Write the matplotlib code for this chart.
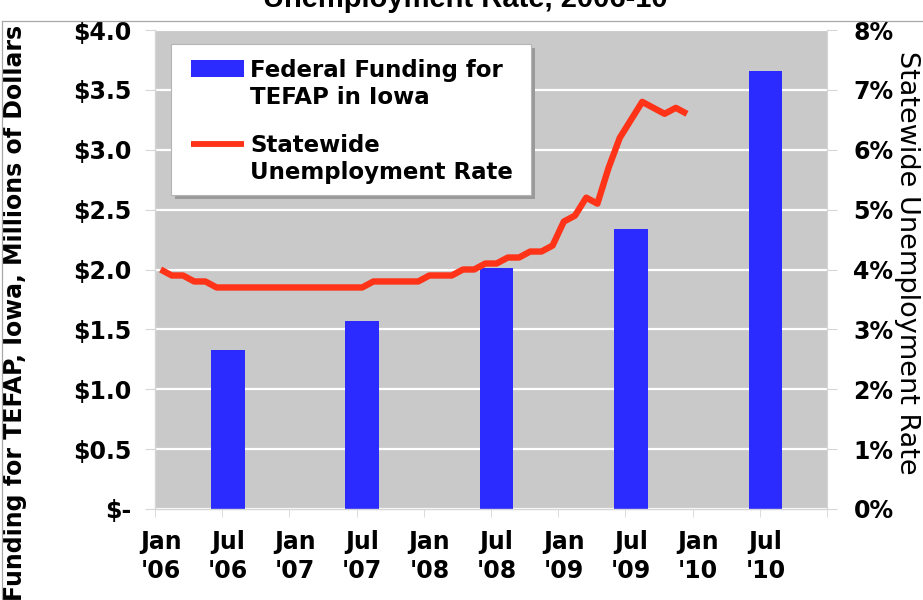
import matplotlib
matplotlib.use("Agg")
import matplotlib.pyplot as plt
from matplotlib.patches import Rectangle
from matplotlib.lines import Line2D
import numpy as np

# ---------------- data ----------------
tick_months = [0, 6, 12, 18, 24, 30, 36, 42, 48, 54]   # months since Jan 2006
tick_labels = ["Jan\n'06", "Jul\n'06", "Jan\n'07", "Jul\n'07", "Jan\n'08",
               "Jul\n'08", "Jan\n'09", "Jul\n'09", "Jan\n'10", "Jul\n'10"]

funding_months = [6, 18, 30, 42, 54]          # Jul '06 ... Jul '10
funding_millions = [1.33, 1.57, 2.01, 2.34, 3.66]

# monthly statewide unemployment rate, Jan 2006 - Dec 2009 (%)
unemployment_pct = [4.0, 3.9, 3.9, 3.8, 3.8, 3.7, 3.7, 3.7, 3.7, 3.7, 3.7, 3.7,
                    3.7, 3.7, 3.7, 3.7, 3.7, 3.7, 3.7, 3.8, 3.8, 3.8, 3.8, 3.8,
                    3.9, 3.9, 3.9, 4.0, 4.0, 4.1, 4.1, 4.2, 4.2, 4.3, 4.3, 4.4,
                    4.8, 4.9, 5.2, 5.1, 5.7, 6.2, 6.5, 6.8, 6.7, 6.6, 6.7, 6.6]
unemployment_months = list(range(len(unemployment_pct)))

left_ticks = [0, 0.5, 1.0, 1.5, 2.0, 2.5, 3.0, 3.5, 4.0]
left_tick_labels = ["$-", "$0.5", "$1.0", "$1.5", "$2.0", "$2.5", "$3.0", "$3.5", "$4.0"]
right_ticks = [0, 1, 2, 3, 4, 5, 6, 7, 8]
right_tick_labels = ["0%", "1%", "2%", "3%", "4%", "5%", "6%", "7%", "8%"]

# ---------------- styling ----------------
W, H = 923, 600
BAR_COLOR = "#2b2bff"
LINE_COLOR = "#ff3317"
BG = "#c9c9c9"
AXC = "#d6d6d6"
FONT = "DejaVu Sans"

fig = plt.figure(figsize=(W / 100, H / 100), dpi=100)
fig.patch.set_facecolor("white")

L, R, T, B = 155, 827, 30, 509
ax = fig.add_axes([L / W, 1 - B / H, (R - L) / W, (B - T) / H])
ax.set_facecolor(BG)

ax.bar(funding_months, funding_millions, width=3.0, color=BAR_COLOR,
       edgecolor="none", zorder=2)
ax.set_xlim(-0.5, 59.5)
ax.set_ylim(0, 4)
ax.set_yticks(left_ticks)
ax.set_yticklabels(left_tick_labels)
ax.yaxis.grid(True, color="white", linewidth=1.6)
ax.set_axisbelow(True)

ax.set_xticks(tick_months)
ax.set_xticklabels(tick_labels, linespacing=1.25)
ax.set_xticks(np.arange(-0.5, 60, 6), minor=True)
ax.tick_params(axis="x", which="major", length=0, pad=15)
ax.tick_params(axis="x", which="minor", length=6, color=AXC)
ax.tick_params(axis="y", length=7, color=AXC, pad=10)

for lab in ax.get_xticklabels() + ax.get_yticklabels():
    lab.set_fontfamily(FONT)
    lab.set_fontweight("bold")
    lab.set_fontsize(17)

for s in ["top", "right"]:
    ax.spines[s].set_visible(False)
for s in ["left", "bottom"]:
    ax.spines[s].set_color(AXC)
    ax.spines[s].set_linewidth(1)

ax2 = ax.twinx()
ax2.plot(unemployment_months, unemployment_pct, color=LINE_COLOR, linewidth=4.6,
         solid_joinstyle="round", solid_capstyle="butt", zorder=3)
ax2.set_ylim(0, 8)
ax2.set_yticks(right_ticks)
ax2.set_yticklabels(right_tick_labels)
ax2.tick_params(axis="y", length=7, color=AXC, pad=12)
for lab in ax2.get_yticklabels():
    lab.set_fontfamily(FONT)
    lab.set_fontweight("bold")
    lab.set_fontsize(17)
for s in ["top", "left", "bottom"]:
    ax2.spines[s].set_visible(False)
ax2.spines["right"].set_color(AXC)

# axis titles
fig.text(15 / W, 1 - 313 / H, "Funding for TEFAP, Iowa, Millions of Dollars",
         rotation=90, ha="center", va="center", fontsize=17,
         fontweight="bold", family=FONT)
fig.text(907 / W, 1 - 263 / H, "Statewide Unemployment Rate",
         rotation=270, ha="center", va="center", fontsize=19.5, family=FONT)

# title (top part falls outside the picture, as in the reference)
fig.text(465 / W, 1 - 7 / H, "Unemployment Rate, 2006-10", ha="center",
         va="baseline", fontsize=21, fontweight="bold", family="Liberation Sans")

# ---------------- overlay in pixel coordinates: frame and legend ----------------
ov = fig.add_axes([0, 0, 1, 1], zorder=10)
ov.set_xlim(0, W)
ov.set_ylim(H, 0)
ov.axis("off")

ov.add_line(Line2D([2, W], [21, 21], color="#a8a8a8", linewidth=0.9))
ov.add_line(Line2D([2, 2], [21, H], color="#a8a8a8", linewidth=0.9))

lx0, ly0, lx1, ly1 = 171, 44, 531, 195
ov.add_patch(Rectangle((lx0 + 4, ly0 + 4), lx1 - lx0, ly1 - ly0,
                       facecolor="#9a9a9a", edgecolor="none"))
ov.add_patch(Rectangle((lx0, ly0), lx1 - lx0, ly1 - ly0,
                       facecolor="white", edgecolor="#b5b5b5", linewidth=0.8))
ov.add_patch(Rectangle((191, 59.5), 52.5, 17.5, facecolor=BAR_COLOR, edgecolor="none"))
ov.add_line(Line2D([191, 243.5], [144, 144], color=LINE_COLOR, linewidth=4.2,
                   solid_capstyle="butt"))
for txt, yb in [("Federal Funding for", 77), ("TEFAP in Iowa", 104),
                ("Statewide", 152), ("Unemployment Rate", 178.5)]:
    ov.text(250, yb, txt, ha="left", va="baseline", fontsize=16.5,
            fontweight="bold", family=FONT)

fig.savefig("out.png", dpi=100, facecolor="white")
